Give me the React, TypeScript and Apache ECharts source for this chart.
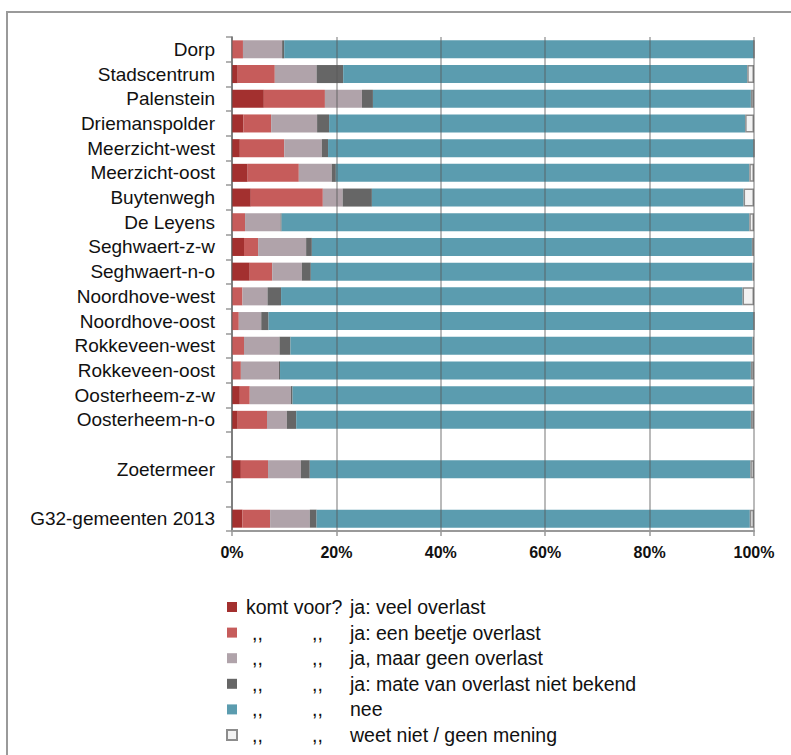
import React, { useEffect, useRef } from "react";
import * as echarts from "echarts";

const categories = [
  "Dorp", "Stadscentrum", "Palenstein", "Driemanspolder", "Meerzicht-west",
  "Meerzicht-oost", "Buytenwegh", "De Leyens", "Seghwaert-z-w", "Seghwaert-n-o",
  "Noordhove-west", "Noordhove-oost", "Rokkeveen-west", "Rokkeveen-oost",
  "Oosterheem-z-w", "Oosterheem-n-o", "", "Zoetermeer", " ", "G32-gemeenten 2013",
];

const seriesNames = [
  "ja: veel overlast",
  "ja: een beetje overlast",
  "ja, maar geen overlast",
  "ja: mate van overlast niet bekend",
  "nee",
  "weet niet / geen mening",
];

const veelOverlast = [0, 1.1, 6.1, 2.2, 1.5, 3.0, 3.6, 0, 2.3, 3.4, 0, 0, 0, 0, 1.5, 1.1, null, 1.7, null, 2.0];
const beetjeOverlast = [2.1, 7.1, 11.7, 5.3, 8.5, 9.8, 13.8, 2.5, 2.7, 4.3, 2.0, 1.3, 2.3, 1.7, 1.9, 5.6, null, 5.2, null, 5.3];
const geenOverlast = [7.5, 8.0, 7.1, 8.8, 7.2, 6.3, 3.8, 6.8, 9.2, 5.7, 4.8, 4.3, 6.8, 7.3, 7.9, 3.8, null, 6.3, null, 7.6];
const nietBekend = [0.4, 5.1, 2.1, 2.3, 1.2, 0.8, 5.6, 0.2, 1.1, 1.7, 2.6, 1.4, 2.1, 0.2, 0.3, 1.8, null, 1.7, null, 1.3];
const nee = [90.0, 77.4, 72.4, 79.7, 81.6, 79.2, 71.2, 89.6, 84.3, 84.6, 88.4, 93.0, 88.5, 90.2, 88.1, 87.1, null, 84.4, null, 83.0];
const weetNiet = [0, 1.3, 0.6, 1.7, 0, 0.9, 2.0, 0.9, 0.4, 0.3, 2.2, 0, 0.3, 0.6, 0.3, 0.6, null, 0.7, null, 0.8];

const xTicks = [0, 20, 40, 60, 80, 100];

const colors = ["#a3302f", "#c65c5b", "#b0a3aa", "#666666", "#5b9caf", "#f2f2f2"];
const allData = [veelOverlast, beetjeOverlast, geenOverlast, nietBekend, nee, weetNiet];

const FONT = "'Liberation Sans', Arial, sans-serif";
const LFS = 19.5;

export default function App() {
  const ref = useRef<HTMLDivElement>(null);

  useEffect(() => {
    if (!ref.current) return;
    const chart = echarts.init(ref.current, undefined, { renderer: "svg" });

    const series = seriesNames.map((name, i) => ({
      name,
      type: "bar",
      stack: "total",
      barCategoryGap: "27%",
      data: allData[i],
      itemStyle:
        i === 5
          ? { color: colors[i], borderColor: "#8c8c8c", borderWidth: 1.5 }
          : { color: colors[i] },
      emphasis: { disabled: true },
    }));

    const tok = { fontFamily: FONT, fontSize: LFS, lineHeight: 20, color: "#111" };

    chart.setOption({
      animation: false,
      graphic: [
        {
          type: "rect",
          shape: { x: 7, y: 12, width: 1000, height: 1000 },
          style: { fill: "none", stroke: "#9a9a9a", lineWidth: 2 },
          silent: true,
          z: -10,
        },
      ],
      grid: { left: 232, right: 37, top: 37, bottom: 224 },
      xAxis: {
        type: "value",
        min: xTicks[0],
        max: xTicks[xTicks.length - 1],
        interval: 20,
        z: 5,
        axisLine: { show: true, lineStyle: { color: "#999", width: 2 } },
        axisTick: { show: true, length: 5, lineStyle: { color: "#999", width: 1.5 } },
        splitLine: { show: true, lineStyle: { color: "rgba(90,90,90,0.55)", width: 1.5 } },
        axisLabel: {
          formatter: "{value}%",
          fontFamily: FONT,
          fontWeight: "bold",
          fontSize: 16,
          color: "#111",
          margin: 13,
        },
      },
      yAxis: {
        type: "category",
        inverse: true,
        data: categories,
        axisLine: { show: true, lineStyle: { color: "#999", width: 2 } },
        axisTick: { show: true, length: 6, interval: 0, lineStyle: { color: "#999", width: 1.5 } },
        axisLabel: { interval: 0, fontFamily: FONT, fontSize: 19, color: "#111", margin: 17 },
      },
      legend: {
        orient: "vertical",
        left: 221,
        top: 592,
        itemWidth: 10,
        itemHeight: 10,
        itemGap: 5.6,
        icon: "rect",
        selectedMode: false,
        data: seriesNames,
        formatter: (name: string) => {
          const idx = seriesNames.indexOf(name);
          if (idx === 0) return `{p| }{a|komt voor? }{c|${name}}`;
          return `{s| }{q|,,}{q2|,,}{c|${name}}`;
        },
        textStyle: {
          ...tok,
          rich: {
            p: { ...tok, width: 4 },
            a: { ...tok, width: 104 },
            s: { ...tok, width: 10 },
            q: { ...tok, width: 60 },
            q2: { ...tok, width: 38 },
            c: { ...tok },
          },
        },
      },
      series,
    });

    return () => chart.dispose();
  }, []);

  return (
    <div
      ref={ref}
      style={{ position: "fixed", left: 0, top: 0, width: 791, height: 755, background: "#fff" }}
    />
  );
}
